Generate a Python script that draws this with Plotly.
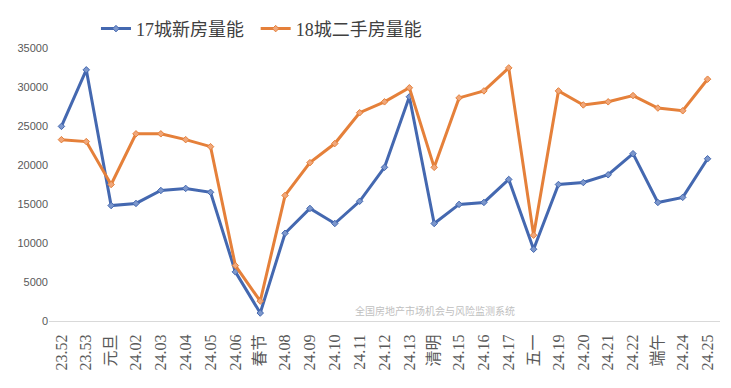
import plotly.graph_objects as go

categories = ["23.52", "23.53", "元旦", "24.02", "24.03", "24.04", "24.05", "24.06", "春节",
              "24.08", "24.09", "24.10", "24.11", "24.12", "24.13", "清明", "24.15", "24.16",
              "24.17", "五一", "24.19", "24.20", "24.21", "24.22", "端午", "24.24", "24.25"]

new_home = [24950, 32200, 14800, 15070, 16730, 17000, 16500, 6300, 1020,
            11250, 14430, 12500, 15350, 19700, 28750, 12500, 14950, 15200,
            18150, 9200, 17500, 17750, 18750, 21450, 15200, 15850, 20800]

second_hand = [23250, 23000, 17500, 24000, 24000, 23250, 22350, 7100, 2550,
               16100, 20300, 22750, 26700, 28100, 29900, 19700, 28600, 29500,
               32450, 11000, 29500, 27700, 28100, 28900, 27300, 26950, 31000]

series_names = ["17城新房量能", "18城二手房量能"]
y_ticks = [0, 5000, 10000, 15000, 20000, 25000, 30000, 35000]
watermark = "全国房地产市场机会与风险监测系统"

blue = "#4468B0"
orange = "#E5803A"

fig = go.Figure()
fig.add_trace(go.Scatter(
    x=categories, y=new_home, name=series_names[0], mode="lines+markers",
    line=dict(color=blue, width=3), legend="legend",
    marker=dict(symbol="diamond", size=5, color="#7C97CC", line=dict(color=blue, width=1)),
))
fig.add_trace(go.Scatter(
    x=categories, y=second_hand, name=series_names[1], mode="lines+markers",
    line=dict(color=orange, width=3), legend="legend2",
    marker=dict(symbol="diamond", size=5, color="#F0A77A", line=dict(color=orange, width=1)),
))

legend_font = dict(family="Liberation Serif, Noto Sans CJK SC", size=18, color="#404040")

fig.update_layout(
    width=731, height=388,
    margin=dict(l=49, r=11, t=47, b=67),
    paper_bgcolor="white", plot_bgcolor="white",
    showlegend=True,
    legend=dict(
        orientation="h", x=0.07, xanchor="left", y=1.066, yanchor="middle",
        font=legend_font, itemwidth=30, bgcolor="rgba(0,0,0,0)",
    ),
    legend2=dict(
        orientation="h", x=0.308, xanchor="left", y=1.066, yanchor="middle",
        font=legend_font, itemwidth=30, bgcolor="rgba(0,0,0,0)",
    ),
    xaxis=dict(
        type="category", tickangle=-90, showgrid=False,
        showline=True, linecolor="#D9D9D9", linewidth=1,
        ticks="", ticklabelstandoff=6,
        tickfont=dict(family="Liberation Serif, Noto Sans CJK SC", size=16, color="#595959"),
        range=[-0.5, len(categories) - 0.5],
    ),
    yaxis=dict(
        range=[0, 35000], tickvals=y_ticks, tickformat="d", showgrid=False, zeroline=False,
        showline=False, ticks="",
        tickfont=dict(family="Liberation Sans, Arial", size=11, color="#595959"),
    ),
    annotations=[dict(
        text=watermark, xref="paper", yref="paper", x=0.575, y=0.04,
        xanchor="center", yanchor="middle", showarrow=False,
        font=dict(family="Noto Sans CJK SC", size=10, color="#BFBFBF"),
    )],
)

fig.write_html("out.html", config={"displayModeBar": False},
               post_script="document.body.style.margin='0';")
